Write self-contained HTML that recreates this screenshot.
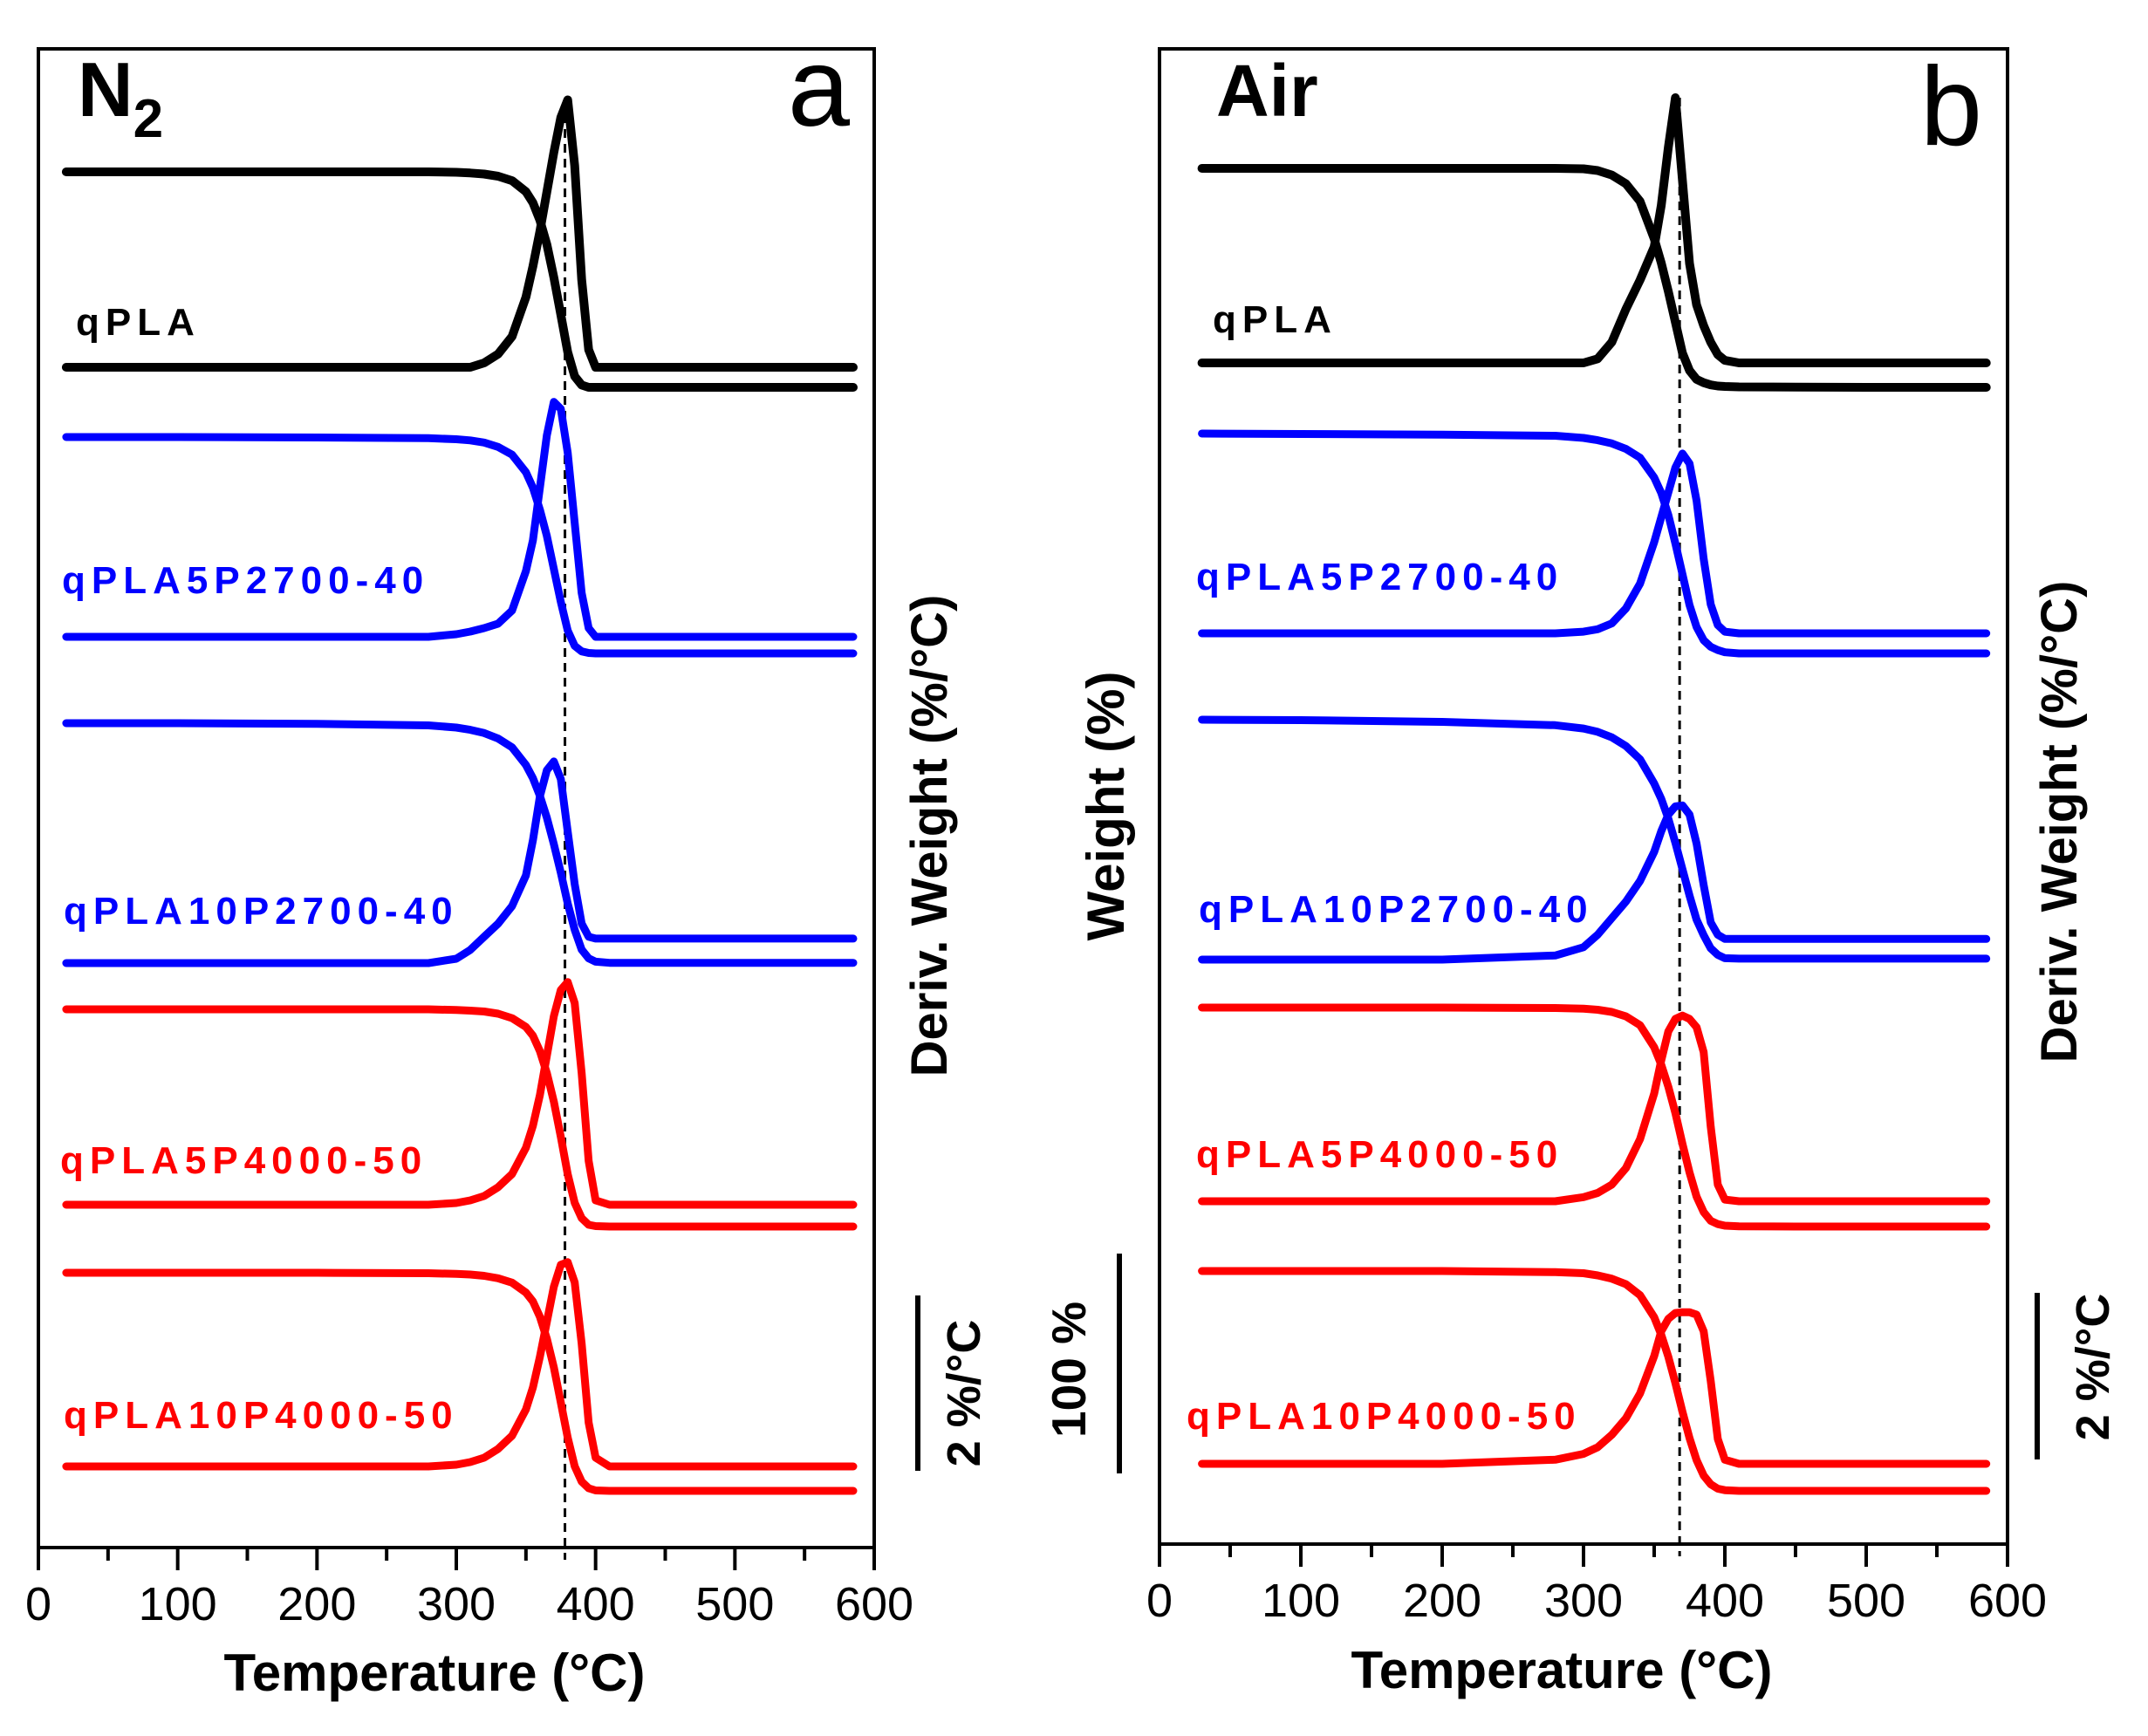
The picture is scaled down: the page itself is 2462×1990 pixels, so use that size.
<!DOCTYPE html>
<html><head><meta charset="utf-8"><style>
html,body{margin:0;padding:0;background:#fff;}
svg{display:block;font-family:"Liberation Sans",Arial,sans-serif;}
</style></head><body>
<svg id="fig" width="2462" height="1990" viewBox="0 0 2462 1990" xmlns="http://www.w3.org/2000/svg">
<rect width="2462" height="1990" fill="#fff"/>
<g id="panelA">
  <rect x="44" y="56" width="958" height="1718" fill="none" stroke="#000" stroke-width="4"/>
  <text x="89" y="133" font-size="88" font-weight="bold">N<tspan font-size="62" dy="24">2</tspan></text>
  <text x="974" y="144" font-size="128" text-anchor="end">a</text>
  <text x="498" y="1938" font-size="60" font-weight="bold" text-anchor="middle">Temperature (°C)</text>
  <text transform="translate(1085,958) rotate(-90)" font-size="58" font-weight="bold" text-anchor="middle">Deriv. Weight (%/°C)</text>
  <line x1="1052" y1="1485" x2="1052" y2="1686" stroke="#000" stroke-width="6"/>
  <text transform="translate(1123,1597) rotate(-90)" font-size="54" font-weight="bold" text-anchor="middle">2 %/°C</text>
</g>
<g id="panelB">
  <rect x="1329" y="56" width="972" height="1714" fill="none" stroke="#000" stroke-width="4"/>
  <text x="1394" y="133" font-size="84" font-weight="bold">Air</text>
  <text x="2272" y="166" font-size="128" text-anchor="end">b</text>
  <text x="1790" y="1935" font-size="60" font-weight="bold" text-anchor="middle">Temperature (°C)</text>
  <text transform="translate(1288,924) rotate(-90)" font-size="60" font-weight="bold" text-anchor="middle">Weight (%)</text>
  <text transform="translate(2380,942) rotate(-90)" font-size="58" font-weight="bold" text-anchor="middle">Deriv. Weight (%/°C)</text>
  <line x1="1283" y1="1437" x2="1283" y2="1689" stroke="#000" stroke-width="6"/>
  <text transform="translate(1244,1570) rotate(-90)" font-size="55" font-weight="bold" text-anchor="middle">100 %</text>
  <line x1="2335" y1="1482" x2="2335" y2="1673" stroke="#000" stroke-width="6"/>
  <text transform="translate(2417,1567) rotate(-90)" font-size="54" font-weight="bold" text-anchor="middle">2 %/°C</text>
</g>
</svg>
<script>
// ---- data ----
const xTicks = [0, 100, 200, 300, 400, 500, 600];
const xMinor = [50, 150, 250, 350, 450, 550];
const gridA = [20,100,200,280,300,310,320,330,340,350,355,360,365,370,375,380,385,390,395,400,410,450,500,585];
const gridB = [30,100,200,280,300,310,320,330,340,350,355,360,365,370,375,380,385,390,395,400,410,450,500,585];
const peakA = 378;
const peakB = 368;
const seriesNames = ["qPLA","qPLA5P2700-40","qPLA10P2700-40","qPLA5P4000-50","qPLA10P4000-50"];
// panel a (N2): weight %, derivative %/°C
const aQ_W  = [100,100,100,100,99.8,99.5,99,98,96,91,86,78,67,52,35,18,7,3,2,2,2,2,2,2];
const aQ_D  = [0,0,0,0,0,0,0.05,0.15,0.35,0.8,1.15,1.55,2.0,2.45,2.85,3.05,2.3,1.0,0.2,0,0,0,0,0];
const aB1_W = [100,100,99.8,99.5,99,98.5,97.5,95.5,92,84,77,67,55,40,25,12,5,2.5,1.8,1.6,1.6,1.6,1.6,1.6];
const aB1_D = [0,0,0,0,0.03,0.06,0.1,0.15,0.3,0.75,1.1,1.7,2.3,2.68,2.6,2.1,1.3,0.5,0.1,0,0,0,0,0];
const aB2_W = [100,100,99.7,99,98,97,95.5,93,89,81,75,67,57,45,32,18,6,-3,-7,-8.5,-9,-9,-9,-9];
const aB2_D = [0,0,0,0,0.05,0.15,0.3,0.45,0.65,1.0,1.4,1.9,2.2,2.3,2.1,1.5,0.9,0.45,0.3,0.28,0.28,0.28,0.28,0.28];
const aR1_W = [100,100,100,100,99.7,99.4,99,98,96,92,88,81,71,58,42,25,12,5,2,1.4,1.2,1.2,1.2,1.2];
const aR1_D = [0,0,0,0,0.02,0.05,0.1,0.2,0.35,0.65,0.9,1.25,1.7,2.15,2.45,2.54,2.3,1.5,0.5,0.05,0,0,0,0];
const aR2_W = [100,100,100,99.8,99.5,99.2,98.6,97.5,95.5,91,87,80,70,57,41,25,12,5,2,1,0.8,0.8,0.8,0.8];
const aR2_D = [0,0,0,0,0.02,0.05,0.1,0.2,0.35,0.65,0.9,1.25,1.65,2.05,2.3,2.33,2.1,1.4,0.5,0.1,0,0,0,0];
// panel b (Air)
const bQ_W  = [100,100,100,100,99.8,99,97,93,85,68,57,44,30,16,8,4,2.5,1.5,1,0.8,0.6,0.5,0.4,0.4];
const bQ_D  = [0,0,0,0,0,0.05,0.25,0.65,1.0,1.4,1.9,2.6,3.2,2.2,1.2,0.7,0.45,0.25,0.1,0.03,0,0,0,0];
const bB1_W = [100,99.8,99.5,99,98,97,95.5,93,89,80,73,63,50,36,22,12,6,3,1.5,0.5,0,0,0,0];
const bB1_D = [0,0,0,0,0.02,0.05,0.12,0.3,0.6,1.1,1.4,1.7,2.0,2.17,2.05,1.6,0.9,0.35,0.1,0.02,0,0,0,0];
const bB2_W = [100,99.8,99,97.5,96,94.5,92,88,82,71,64,55,44,32,20,9,2,-4,-7,-8.5,-8.7,-8.7,-8.7,-8.7];
const bB2_D = [0,0,0,0.05,0.15,0.3,0.5,0.7,0.95,1.3,1.55,1.75,1.85,1.86,1.75,1.4,0.9,0.45,0.3,0.25,0.25,0.25,0.25,0.25];
const bR1_W = [100,100,100,99.8,99.5,99,98,96,92,82,74,64,52,38,25,14,7,3,1.5,0.8,0.5,0.4,0.4,0.4];
const bR1_D = [0,0,0,0,0.05,0.1,0.2,0.4,0.75,1.3,1.7,2.05,2.2,2.24,2.2,2.1,1.8,0.9,0.2,0.02,0,0,0,0];
const bR2_W = [100,100,100,99.5,99,98,96.5,94,89,79,71,61,49,36,24,14,7,3,1,0.3,0,0,0,0];
const bR2_D = [0,0,0,0.05,0.12,0.2,0.35,0.55,0.85,1.3,1.6,1.75,1.82,1.83,1.83,1.8,1.6,1.0,0.3,0.05,0,0,0,0];

// ---- layout ----
const NS = "http://www.w3.org/2000/svg";
const colors = ["#000000","#0000ff","#0000ff","#ff0000","#ff0000"];
const panels = [
  {g:"panelA", key:"a", x0:44, x1:1002, yAxis:1774, top:56, grid:gridA, peak:peakA, peakTop:114, wS:2.52, dS:100.5,
   W:[aQ_W,aB1_W,aB2_W,aR1_W,aR2_W], D:[aQ_D,aB1_D,aB2_D,aR1_D,aR2_D],
   w100:[197,501,829,1157,1459], d0:[421,730,1104,1381,1681],
   lab:[[87,384],[71,680],[73,1059],[69,1345],[73,1637]], labY:1857},
  {g:"panelB", key:"b", x0:1329, x1:2301, yAxis:1770, top:56, grid:gridB, peak:peakB, peakTop:112, wS:2.52, dS:95,
   W:[bQ_W,bB1_W,bB2_W,bR1_W,bR2_W], D:[bQ_D,bB1_D,bB2_D,bR1_D,bR2_D],
   w100:[193,497,825,1155,1457], d0:[416,726,1100,1377,1678],
   lab:[[1390,381],[1371,676],[1374,1057],[1371,1338],[1360,1638]], labY:1853}
];
function mk(tag, attrs, parent){const e=document.createElementNS(NS,tag);for(const k in attrs)e.setAttribute(k,attrs[k]);parent.appendChild(e);return e;}
panels.forEach(p=>{
  const g=document.getElementById(p.g);
  const xs=t=>p.x0+(t/600)*(p.x1-p.x0);
  xTicks.forEach(t=>{
    const l=mk("line",{x1:xs(t),x2:xs(t),y1:p.yAxis,y2:p.yAxis+26,stroke:"#000","stroke-width":4},g);
    
    
    const tx=mk("text",{x:xs(t),y:p.labY,"font-size":54,"text-anchor":"middle"},g);
    tx.textContent=t;
    
    
  });
  xMinor.forEach(t=>{
    const l=mk("line",{x1:xs(t),x2:xs(t),y1:p.yAxis,y2:p.yAxis+15,stroke:"#000","stroke-width":4},g);
    
    
  });
  const dl=mk("line",{x1:xs(p.peak),x2:xs(p.peak),y1:p.peakTop,y2:p.yAxis+14,stroke:"#000","stroke-width":3,"stroke-dasharray":"10 7"},g);
  
  
  for(let i=0;i<5;i++){
    const wPts=p.grid.map((t,j)=>xs(t).toFixed(1)+","+(p.w100[i]+(100-p.W[i][j])*p.wS).toFixed(1)).join(" ");
    const dPts=p.grid.map((t,j)=>xs(t).toFixed(1)+","+(p.d0[i]-p.D[i][j]*p.dS).toFixed(1)).join(" ");
    const sw=i===0?10:9;
    const pw=mk("polyline",{points:wPts,fill:"none",stroke:colors[i],"stroke-width":sw,"stroke-linejoin":"round","stroke-linecap":"round"},g);
    
    
    const pd=mk("polyline",{points:dPts,fill:"none",stroke:colors[i],"stroke-width":sw,"stroke-linejoin":"round","stroke-linecap":"round"},g);
    
    
    const lb=mk("text",{x:p.lab[i][0],y:p.lab[i][1],"font-size":44,"font-weight":"bold",fill:colors[i],"letter-spacing":7},g);
    lb.textContent=seriesNames[i];
    
    
  }
});
</script>
</body></html>
